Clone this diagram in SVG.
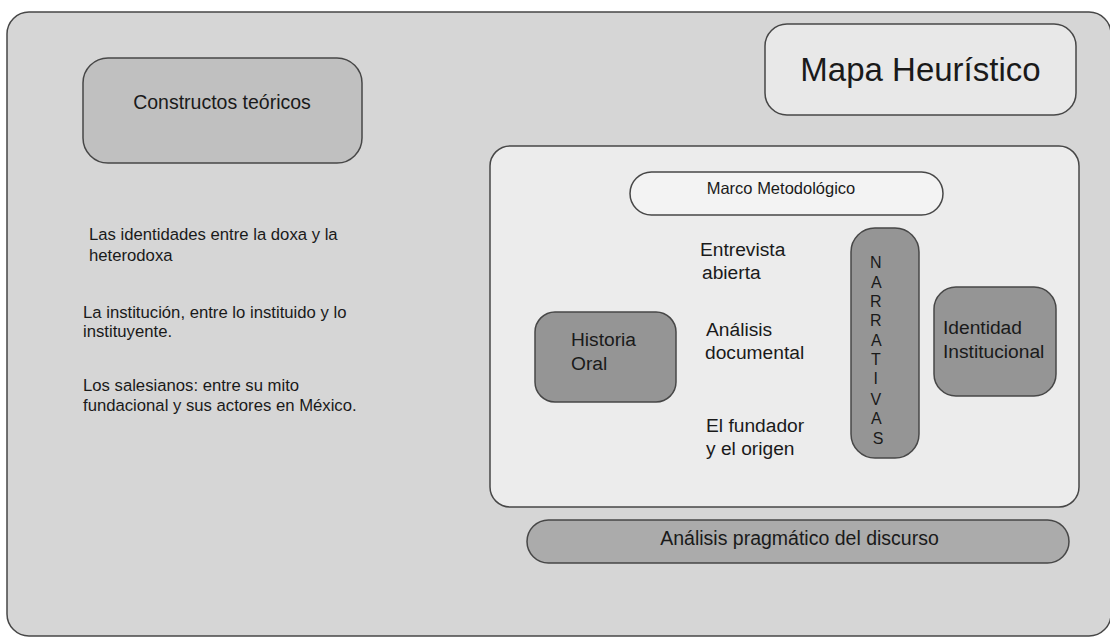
<svg xmlns="http://www.w3.org/2000/svg" width="1110" height="637" viewBox="0 0 1110 637">
<style>
  .box { stroke: #474747; stroke-width: 1.5; }
  .t { font-family: "Liberation Sans", Arial, sans-serif; fill: #1a1a1a; }
  .dark { fill: #959595; }
</style>
<rect width="1110" height="637" fill="#ffffff"/>
<g id="outer">
  <rect class="box" x="7" y="12" width="1104" height="624" rx="22" fill="#d6d6d6"/>
</g>
<g id="constructos">
  <rect class="box" x="83" y="58" width="279" height="105" rx="25" fill="#c0c0c0"/>
  <text class="t" x="222" y="109" font-size="19.5" text-anchor="middle">Constructos teóricos</text>
</g>
<g id="mapa">
  <rect class="box" x="765" y="24" width="311" height="91" rx="22" fill="#e8e8e8"/>
  <text class="t" x="920.5" y="81" font-size="33" text-anchor="middle">Mapa Heurístico</text>
</g>
<g id="teoria-textos">
  <text class="t" font-size="16.7">
    <tspan x="89" y="240">Las identidades entre la doxa y la</tspan>
    <tspan x="89" y="261">heterodoxa</tspan>
  </text>
  <text class="t" font-size="16.7">
    <tspan x="83" y="318">La institución, entre lo instituido y lo</tspan>
    <tspan x="83" y="337">instituyente.</tspan>
  </text>
  <text class="t" font-size="16.7">
    <tspan x="83" y="391">Los salesianos: entre su mito</tspan>
    <tspan x="83" y="411">fundacional y sus actores en México.</tspan>
  </text>
</g>
<g id="marco-contenedor">
  <rect class="box" x="490" y="146" width="589" height="361" rx="20" fill="#ececec"/>
</g>
<g id="marco-metodologico">
  <rect class="box" x="630" y="172" width="313" height="43" rx="21.5" fill="#f3f3f3"/>
  <text class="t" x="781" y="194" font-size="16.5" text-anchor="middle">Marco Metodológico</text>
</g>
<g id="historia-oral">
  <rect class="box dark" x="535" y="312" width="141" height="90" rx="20"/>
  <text class="t" font-size="19.2">
    <tspan x="571" y="346">Historia</tspan>
    <tspan x="571" y="370">Oral</tspan>
  </text>
</g>
<g id="metodos">
  <text class="t" font-size="19.2">
    <tspan x="700" y="256">Entrevista</tspan>
    <tspan x="702" y="279">abierta</tspan>
  </text>
  <text class="t" font-size="19.2">
    <tspan x="706" y="336">Análisis</tspan>
    <tspan x="705" y="359">documental</tspan>
  </text>
  <text class="t" font-size="19.2">
    <tspan x="706" y="432">El fundador</tspan>
    <tspan x="706" y="455">y el origen</tspan>
  </text>
</g>
<g id="narrativas">
  <rect class="box dark" x="851" y="228" width="68" height="230" rx="24"/>
  <text class="t" font-size="16" text-anchor="middle">
    <tspan x="878" y="268">N</tspan>
    <tspan x="878" y="288">A</tspan>
    <tspan x="878" y="307">R</tspan>
    <tspan x="878" y="326">R</tspan>
    <tspan x="878" y="346">A</tspan>
    <tspan x="878" y="365">T</tspan>
    <tspan x="878" y="384">I</tspan>
    <tspan x="878" y="405">V</tspan>
    <tspan x="878" y="424">A</tspan>
    <tspan x="878" y="444">S</tspan>
  </text>
</g>
<g id="identidad">
  <rect class="box dark" x="934" y="287" width="122" height="109" rx="22"/>
  <text class="t" font-size="19.2">
    <tspan x="943" y="334">Identidad</tspan>
    <tspan x="943" y="358">Institucional</tspan>
  </text>
</g>
<g id="pragmatico">
  <rect class="box" x="527" y="520" width="542" height="43" rx="21.5" fill="#ababab"/>
  <text class="t" x="799.5" y="545" font-size="19.5" text-anchor="middle">Análisis pragmático del discurso</text>
</g>
<g id="connectors"></g>
</svg>
